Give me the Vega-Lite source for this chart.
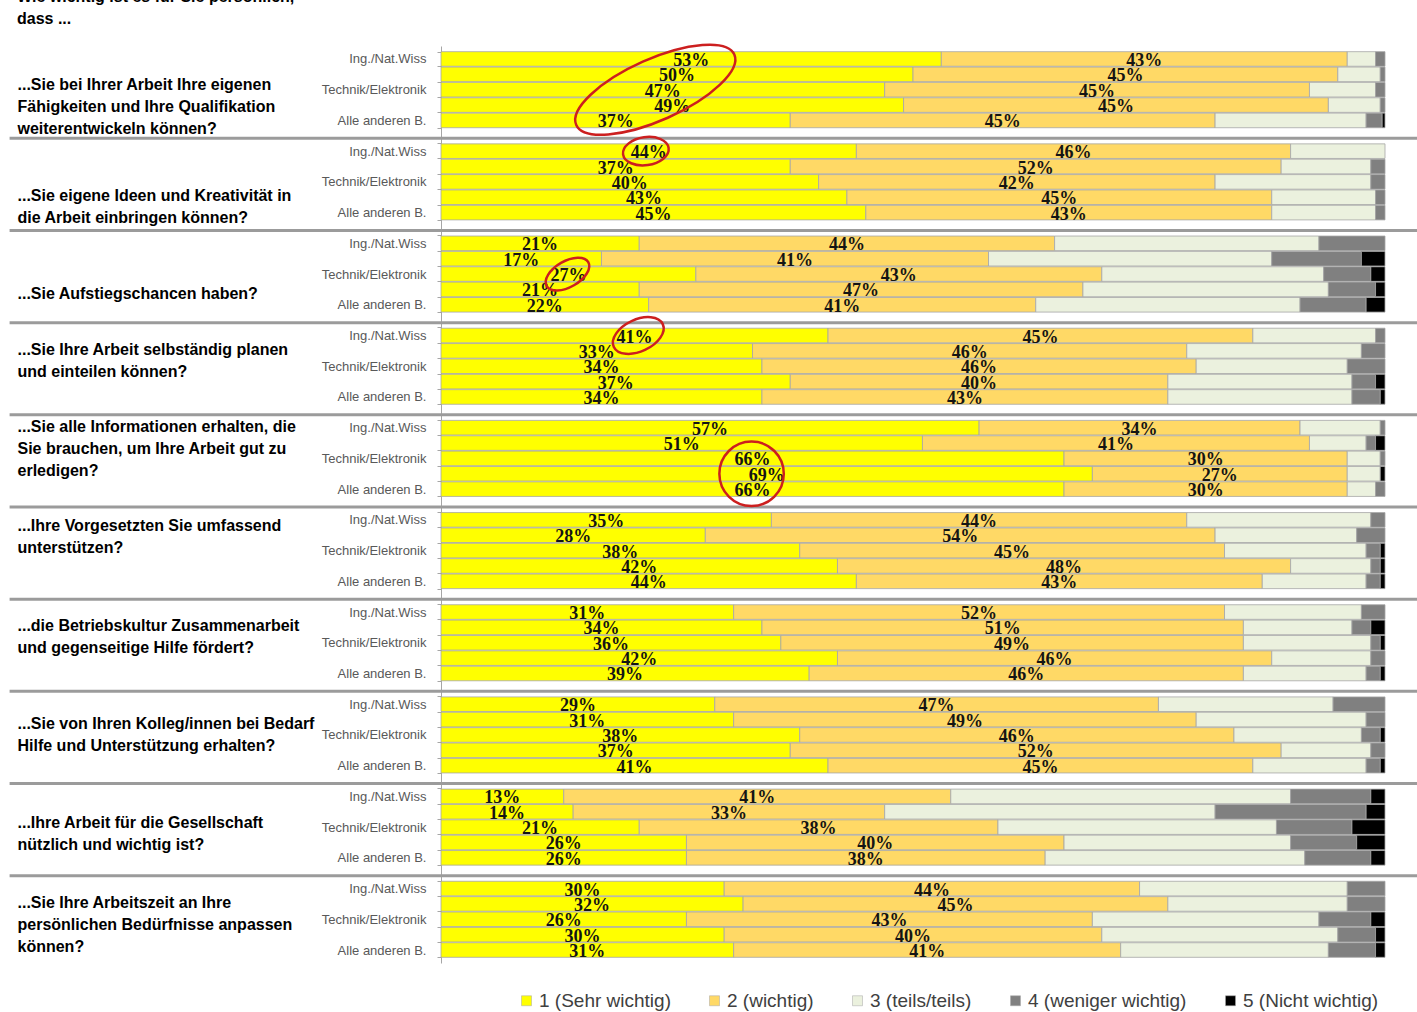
{
  "$schema": "https://vega.github.io/schema/vega-lite/v6.json",
  "width": 944,
  "height": 917,
  "autosize": {"type": "none"},
  "padding": {"left": 441, "top": 46, "right": 32, "bottom": 49},
  "background": "#ffffff",
  "config": {
    "view": {"stroke": null},
    "font": "Liberation Sans"
  },
  "title": {
    "text": ["Wie wichtig ist es für Sie persönlich,", "dass ..."],
    "anchor": "start",
    "frame": "group",
    "orient": "top",
    "dx": -424,
    "dy": -13,
    "offset": 0,
    "font": "Liberation Sans",
    "fontSize": 16,
    "fontWeight": "bold",
    "color": "#000000",
    "lineHeight": 22
  },
  "datasets": {
    "antworten": [
      {"frage": 1, "gruppe": 1, "sehr_wichtig": 53, "wichtig": 43, "teils": 3, "weniger_wichtig": 1, "nicht_wichtig": 0},
      {"frage": 1, "gruppe": 2, "sehr_wichtig": 50, "wichtig": 45, "teils": 4.5, "weniger_wichtig": 0.5, "nicht_wichtig": 0},
      {"frage": 1, "gruppe": 3, "sehr_wichtig": 47, "wichtig": 45, "teils": 7, "weniger_wichtig": 1, "nicht_wichtig": 0},
      {"frage": 1, "gruppe": 4, "sehr_wichtig": 49, "wichtig": 45, "teils": 5.5, "weniger_wichtig": 0.5, "nicht_wichtig": 0},
      {"frage": 1, "gruppe": 5, "sehr_wichtig": 37, "wichtig": 45, "teils": 16, "weniger_wichtig": 1.7, "nicht_wichtig": 0.3},
      {"frage": 2, "gruppe": 1, "sehr_wichtig": 44, "wichtig": 46, "teils": 10, "weniger_wichtig": 0, "nicht_wichtig": 0},
      {"frage": 2, "gruppe": 2, "sehr_wichtig": 37, "wichtig": 52, "teils": 9.5, "weniger_wichtig": 1.5, "nicht_wichtig": 0},
      {"frage": 2, "gruppe": 3, "sehr_wichtig": 40, "wichtig": 42, "teils": 16.5, "weniger_wichtig": 1.5, "nicht_wichtig": 0},
      {"frage": 2, "gruppe": 4, "sehr_wichtig": 43, "wichtig": 45, "teils": 11, "weniger_wichtig": 1, "nicht_wichtig": 0},
      {"frage": 2, "gruppe": 5, "sehr_wichtig": 45, "wichtig": 43, "teils": 11, "weniger_wichtig": 1, "nicht_wichtig": 0},
      {"frage": 3, "gruppe": 1, "sehr_wichtig": 21, "wichtig": 44, "teils": 28, "weniger_wichtig": 7, "nicht_wichtig": 0},
      {"frage": 3, "gruppe": 2, "sehr_wichtig": 17, "wichtig": 41, "teils": 30, "weniger_wichtig": 9.5, "nicht_wichtig": 2.5},
      {"frage": 3, "gruppe": 3, "sehr_wichtig": 27, "wichtig": 43, "teils": 23.5, "weniger_wichtig": 5, "nicht_wichtig": 1.5},
      {"frage": 3, "gruppe": 4, "sehr_wichtig": 21, "wichtig": 47, "teils": 26, "weniger_wichtig": 5, "nicht_wichtig": 1},
      {"frage": 3, "gruppe": 5, "sehr_wichtig": 22, "wichtig": 41, "teils": 28, "weniger_wichtig": 7, "nicht_wichtig": 2},
      {"frage": 4, "gruppe": 1, "sehr_wichtig": 41, "wichtig": 45, "teils": 13, "weniger_wichtig": 1, "nicht_wichtig": 0},
      {"frage": 4, "gruppe": 2, "sehr_wichtig": 33, "wichtig": 46, "teils": 18.5, "weniger_wichtig": 2.5, "nicht_wichtig": 0},
      {"frage": 4, "gruppe": 3, "sehr_wichtig": 34, "wichtig": 46, "teils": 16, "weniger_wichtig": 4, "nicht_wichtig": 0},
      {"frage": 4, "gruppe": 4, "sehr_wichtig": 37, "wichtig": 40, "teils": 19.5, "weniger_wichtig": 2.5, "nicht_wichtig": 1},
      {"frage": 4, "gruppe": 5, "sehr_wichtig": 34, "wichtig": 43, "teils": 19.5, "weniger_wichtig": 3, "nicht_wichtig": 0.5},
      {"frage": 5, "gruppe": 1, "sehr_wichtig": 57, "wichtig": 34, "teils": 8.5, "weniger_wichtig": 0.5, "nicht_wichtig": 0},
      {"frage": 5, "gruppe": 2, "sehr_wichtig": 51, "wichtig": 41, "teils": 6, "weniger_wichtig": 1, "nicht_wichtig": 1},
      {"frage": 5, "gruppe": 3, "sehr_wichtig": 66, "wichtig": 30, "teils": 3.5, "weniger_wichtig": 0.5, "nicht_wichtig": 0},
      {"frage": 5, "gruppe": 4, "sehr_wichtig": 69, "wichtig": 27, "teils": 3.5, "weniger_wichtig": 0, "nicht_wichtig": 0.5},
      {"frage": 5, "gruppe": 5, "sehr_wichtig": 66, "wichtig": 30, "teils": 3, "weniger_wichtig": 1, "nicht_wichtig": 0},
      {"frage": 6, "gruppe": 1, "sehr_wichtig": 35, "wichtig": 44, "teils": 19.5, "weniger_wichtig": 1.5, "nicht_wichtig": 0},
      {"frage": 6, "gruppe": 2, "sehr_wichtig": 28, "wichtig": 54, "teils": 15, "weniger_wichtig": 3, "nicht_wichtig": 0},
      {"frage": 6, "gruppe": 3, "sehr_wichtig": 38, "wichtig": 45, "teils": 15, "weniger_wichtig": 1.5, "nicht_wichtig": 0.5},
      {"frage": 6, "gruppe": 4, "sehr_wichtig": 42, "wichtig": 48, "teils": 8.5, "weniger_wichtig": 1, "nicht_wichtig": 0.5},
      {"frage": 6, "gruppe": 5, "sehr_wichtig": 44, "wichtig": 43, "teils": 11, "weniger_wichtig": 1.5, "nicht_wichtig": 0.5},
      {"frage": 7, "gruppe": 1, "sehr_wichtig": 31, "wichtig": 52, "teils": 14.5, "weniger_wichtig": 2.5, "nicht_wichtig": 0},
      {"frage": 7, "gruppe": 2, "sehr_wichtig": 34, "wichtig": 51, "teils": 11.5, "weniger_wichtig": 2, "nicht_wichtig": 1.5},
      {"frage": 7, "gruppe": 3, "sehr_wichtig": 36, "wichtig": 49, "teils": 13.5, "weniger_wichtig": 1, "nicht_wichtig": 0.5},
      {"frage": 7, "gruppe": 4, "sehr_wichtig": 42, "wichtig": 46, "teils": 10.5, "weniger_wichtig": 1.5, "nicht_wichtig": 0},
      {"frage": 7, "gruppe": 5, "sehr_wichtig": 39, "wichtig": 46, "teils": 13, "weniger_wichtig": 1.5, "nicht_wichtig": 0.5},
      {"frage": 8, "gruppe": 1, "sehr_wichtig": 29, "wichtig": 47, "teils": 18.5, "weniger_wichtig": 5.5, "nicht_wichtig": 0},
      {"frage": 8, "gruppe": 2, "sehr_wichtig": 31, "wichtig": 49, "teils": 18, "weniger_wichtig": 2, "nicht_wichtig": 0},
      {"frage": 8, "gruppe": 3, "sehr_wichtig": 38, "wichtig": 46, "teils": 13.5, "weniger_wichtig": 2, "nicht_wichtig": 0.5},
      {"frage": 8, "gruppe": 4, "sehr_wichtig": 37, "wichtig": 52, "teils": 9.5, "weniger_wichtig": 1.5, "nicht_wichtig": 0},
      {"frage": 8, "gruppe": 5, "sehr_wichtig": 41, "wichtig": 45, "teils": 12, "weniger_wichtig": 1.5, "nicht_wichtig": 0.5},
      {"frage": 9, "gruppe": 1, "sehr_wichtig": 13, "wichtig": 41, "teils": 36, "weniger_wichtig": 8.5, "nicht_wichtig": 1.5},
      {"frage": 9, "gruppe": 2, "sehr_wichtig": 14, "wichtig": 33, "teils": 35, "weniger_wichtig": 16, "nicht_wichtig": 2},
      {"frage": 9, "gruppe": 3, "sehr_wichtig": 21, "wichtig": 38, "teils": 29.5, "weniger_wichtig": 8, "nicht_wichtig": 3.5},
      {"frage": 9, "gruppe": 4, "sehr_wichtig": 26, "wichtig": 40, "teils": 24, "weniger_wichtig": 7, "nicht_wichtig": 3},
      {"frage": 9, "gruppe": 5, "sehr_wichtig": 26, "wichtig": 38, "teils": 27.5, "weniger_wichtig": 7, "nicht_wichtig": 1.5},
      {"frage": 10, "gruppe": 1, "sehr_wichtig": 30, "wichtig": 44, "teils": 22, "weniger_wichtig": 4, "nicht_wichtig": 0},
      {"frage": 10, "gruppe": 2, "sehr_wichtig": 32, "wichtig": 45, "teils": 19, "weniger_wichtig": 4, "nicht_wichtig": 0},
      {"frage": 10, "gruppe": 3, "sehr_wichtig": 26, "wichtig": 43, "teils": 24, "weniger_wichtig": 5.5, "nicht_wichtig": 1.5},
      {"frage": 10, "gruppe": 4, "sehr_wichtig": 30, "wichtig": 40, "teils": 25, "weniger_wichtig": 4, "nicht_wichtig": 1},
      {"frage": 10, "gruppe": 5, "sehr_wichtig": 31, "wichtig": 41, "teils": 22, "weniger_wichtig": 5, "nicht_wichtig": 1}
    ]
  },
  "data": {"name": "antworten"},
  "transform": [
    {"fold": ["sehr_wichtig", "wichtig", "teils", "weniger_wichtig", "nicht_wichtig"], "as": ["antwort", "prozent"]},
    {"calculate": "indexof(['sehr_wichtig', 'wichtig', 'teils', 'weniger_wichtig', 'nicht_wichtig'], datum.antwort)", "as": "rang"},
    {"stack": "prozent", "groupby": ["frage", "gruppe"], "sort": [{"field": "rang", "order": "ascending"}], "as": ["von", "bis"]},
    {"calculate": "datum.frage + '-' + datum.gruppe", "as": "zeile"},
    {"calculate": "(datum.von + datum.bis) / 2", "as": "mitte"},
    {"calculate": "datum.prozent + '%'", "as": "beschriftung"}
  ],
  "layer": [
    {
      "transform": [{"filter": "datum.prozent > 0"}],
      "mark": {"type": "bar", "stroke": "#a6a6a6", "strokeWidth": 0.8},
      "encoding": {
        "x": {
          "field": "von",
          "type": "quantitative",
          "title": null,
          "scale": {"domain": [0, 100], "nice": false, "zero": true},
          "axis": {
            "orient": "top",
            "values": [0, 10, 20, 30, 40, 50, 60, 70, 80, 90, 100],
            "labelExpr": "datum.value + '%'",
            "labelFont": "Liberation Sans",
            "labelFontSize": 18,
            "labelColor": "#595959",
            "labelBaseline": "middle",
            "labelPadding": 28,
            "labelFlush": false,
            "labelOverlap": false,
            "ticks": false,
            "tickSize": 0,
            "domain": false,
            "grid": true,
            "gridColor": "#cccccc",
            "gridWidth": 1
          }
        },
        "x2": {"field": "bis"},
        "y": {
          "field": "zeile",
          "type": "nominal",
          "title": null,
          "scale": {
            "domain": ["1-1", "1-2", "1-3", "1-4", "1-5", "1-6", "2-1", "2-2", "2-3", "2-4", "2-5", "2-6", "3-1", "3-2", "3-3", "3-4", "3-5", "3-6", "4-1", "4-2", "4-3", "4-4", "4-5", "4-6", "5-1", "5-2", "5-3", "5-4", "5-5", "5-6", "6-1", "6-2", "6-3", "6-4", "6-5", "6-6", "7-1", "7-2", "7-3", "7-4", "7-5", "7-6", "8-1", "8-2", "8-3", "8-4", "8-5", "8-6", "9-1", "9-2", "9-3", "9-4", "9-5", "9-6", "10-1", "10-2", "10-3", "10-4", "10-5"],
            "paddingInner": 0.05,
            "paddingOuter": 0.37
          },
          "axis": {
            "orient": "left",
            "labelExpr": "['', 'Ing./Nat.Wiss', '', 'Technik/Elektronik', '', 'Alle anderen B.', ''][toNumber(split(datum.value, '-')[1])]",
            "labelFont": "Liberation Sans",
            "labelFontSize": 13,
            "labelColor": "#595959",
            "labelBaseline": "middle",
            "labelPadding": 11,
            "labelLimit": 0,
            "labelOverlap": false,
            "tickSize": 4,
            "tickColor": "#a6a6a6",
            "tickBand": "extent",
            "domainColor": "#a6a6a6",
            "grid": false
          }
        },
        "color": {
          "field": "antwort",
          "type": "nominal",
          "scale": {
            "domain": ["sehr_wichtig", "wichtig", "teils", "weniger_wichtig", "nicht_wichtig"],
            "range": ["#ffff00", "#ffd966", "#ebf1de", "#808080", "#000000"]
          },
          "legend": {
            "orient": "none",
            "direction": "horizontal",
            "legendX": 76,
            "legendY": 945,
            "title": null,
            "padding": 0,
            "symbolType": "square",
            "symbolSize": 100,
            "symbolStrokeColor": "#a6a6a6",
            "symbolStrokeWidth": 0.5,
            "labelFont": "Liberation Sans",
            "labelFontSize": 19,
            "labelColor": "#404040",
            "labelOffset": 3,
            "labelLimit": 0,
            "columnPadding": 34,
            "labelExpr": "['1 (Sehr wichtig)', '2 (wichtig)', '3 (teils/teils)', '4 (weniger wichtig)', '5 (Nicht wichtig)'][indexof(['sehr_wichtig', 'wichtig', 'teils', 'weniger_wichtig', 'nicht_wichtig'], datum.value)]"
          }
        }
      }
    },
    {
      "transform": [{"filter": "datum.rang <= 1"}],
      "mark": {
        "type": "text",
        "font": "Liberation Serif",
        "fontSize": 18,
        "fontWeight": "bold",
        "baseline": "middle",
        "dy": 2,
        "color": "#141414"
      },
      "encoding": {
        "x": {"field": "mitte", "type": "quantitative", "title": null, "axis": null},
        "y": {"field": "zeile", "type": "nominal", "title": null, "axis": null},
        "text": {"field": "beschriftung"}
      }
    },
    {
      "data": {"values": [{"frage": 1}, {"frage": 2}, {"frage": 3}, {"frage": 4}, {"frage": 5}, {"frage": 6}, {"frage": 7}, {"frage": 8}, {"frage": 9}]},
      "transform": [{"calculate": "datum.frage + '-6'", "as": "zeile"}],
      "mark": {"type": "rule", "color": "#9b9b9b", "strokeWidth": 3, "yOffset": 2.5},
      "encoding": {
        "x": {"datum": -45.7, "type": "quantitative", "title": null, "axis": null},
        "x2": {"datum": 103.4},
        "y": {
          "field": "zeile",
          "type": "nominal",
          "title": null,
          "axis": {
            "orient": "left",
            "values": ["1-3", "2-4", "3-4", "4-2", "5-1", "6-1", "7-2", "8-2", "9-3", "10-2"],
            "labelExpr": "split(['...Sie bei Ihrer Arbeit Ihre eigenen|Fähigkeiten und Ihre Qualifikation|weiterentwickeln können?', '...Sie eigene Ideen und Kreativität in|die Arbeit einbringen können?', '...Sie Aufstiegschancen haben?', '...Sie Ihre Arbeit selbständig planen|und einteilen können?', '...Sie alle Informationen erhalten, die|Sie brauchen, um Ihre Arbeit gut zu|erledigen?', '...Ihre Vorgesetzten Sie umfassend|unterstützen?', '...die Betriebskultur Zusammenarbeit|und gegenseitige Hilfe fördert?', '...Sie von Ihren Kolleg/innen bei Bedarf|Hilfe und Unterstützung erhalten?', '...Ihre Arbeit für die Gesellschaft|nützlich und wichtig ist?', '...Sie Ihre Arbeitszeit an Ihre|persönlichen Bedürfnisse anpassen|können?'][toNumber(split(datum.value, '-')[0]) - 1], '|')",
            "labelAlign": "left",
            "labelBaseline": "middle",
            "labelPadding": 424,
            "labelOffset": {
              "condition": [
                {"test": "datum.value === '1-3'", "value": -5},
                {"test": "datum.value === '3-4'", "value": 5},
                {"test": "datum.value === '6-1'", "value": 6},
                {"test": "datum.value === '8-2'", "value": 4},
                {"test": "datum.value === '9-3'", "value": -4}
              ],
              "value": -1
            },
            "labelFont": "Liberation Sans",
            "labelFontSize": 16,
            "labelFontWeight": "bold",
            "labelColor": "#000000",
            "labelLineHeight": 22,
            "labelLimit": 0,
            "labelOverlap": false,
            "labelBound": false,
            "ticks": false,
            "tickSize": 0,
            "domain": false,
            "grid": false
          }
        }
      }
    },
    {
      "encoding": {
        "x": {"field": "prozent", "type": "quantitative", "title": null, "axis": null},
        "y": {"field": "zeile", "type": "nominal", "title": null, "axis": null}
      },
      "layer": [
        {
          "data": {"values": [{"zeile": "1-3", "prozent": 22.7}]},
          "mark": {"type": "point", "shape": "M1,0C1,0.196,0.5523,0.355,0,0.355C-0.5523,0.355,-1,0.196,-1,0C-1,-0.196,-0.5523,-0.355,0,-0.355C0.5523,-0.355,1,-0.196,1,0Z", "size": 29929, "angle": -24, "filled": false, "color": "#cc1f1f", "strokeWidth": 2.5, "opacity": 1}
        },
        {
          "data": {"values": [{"zeile": "2-1", "prozent": 21.7}]},
          "mark": {"type": "point", "shape": "M1,0C1,0.337,0.5523,0.61,0,0.61C-0.5523,0.61,-1,0.337,-1,0C-1,-0.337,-0.5523,-0.61,0,-0.61C0.5523,-0.61,1,-0.337,1,0Z", "size": 2116, "angle": -8, "filled": false, "color": "#cc1f1f", "strokeWidth": 2.5, "opacity": 1}
        },
        {
          "data": {"values": [{"zeile": "3-3", "prozent": 13.4}]},
          "mark": {"type": "point", "shape": "M1,0C1,0.298,0.5523,0.54,0,0.54C-0.5523,0.54,-1,0.298,-1,0C-1,-0.298,-0.5523,-0.54,0,-0.54C0.5523,-0.54,1,-0.298,1,0Z", "size": 2304, "angle": -30, "filled": false, "color": "#cc1f1f", "strokeWidth": 2.5, "opacity": 1}
        },
        {
          "data": {"values": [{"zeile": "4-1", "prozent": 20.9}]},
          "mark": {"type": "point", "shape": "M1,0C1,0.326,0.5523,0.59,0,0.59C-0.5523,0.59,-1,0.326,-1,0C-1,-0.326,-0.5523,-0.59,0,-0.59C0.5523,-0.59,1,-0.326,1,0Z", "size": 2916, "angle": -25, "filled": false, "color": "#cc1f1f", "strokeWidth": 2.5, "opacity": 1}
        },
        {
          "data": {"values": [{"zeile": "5-4", "prozent": 32.9}]},
          "mark": {"type": "point", "shape": "circle", "size": 4150, "filled": false, "color": "#cc1f1f", "strokeWidth": 2.5, "opacity": 1}
        }
      ]
    }
  ],
  "resolve": {"axis": {"y": "independent"}}
}
